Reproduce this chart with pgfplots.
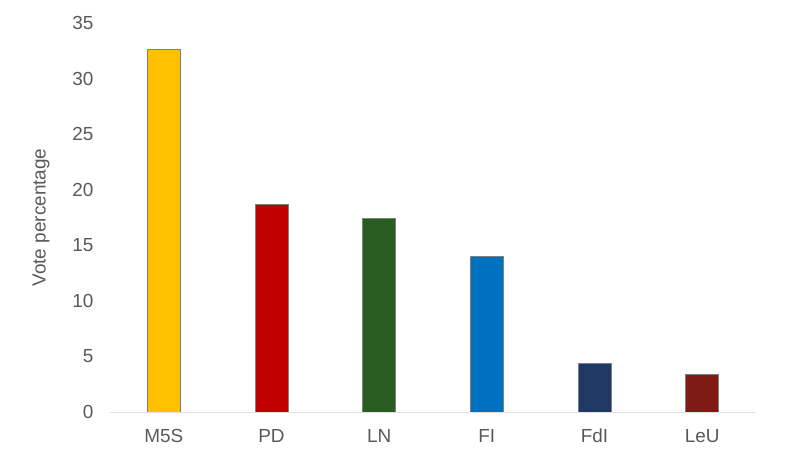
\documentclass[border=0pt]{standalone}
\usepackage{fontspec}
\setmainfont{Liberation Sans}
\usepackage{pgfplots}
\pgfplotsset{compat=1.18}

\definecolor{txt}{HTML}{595959}
\definecolor{cM}{HTML}{FFC000}
\definecolor{cPD}{HTML}{C00000}
\definecolor{cLN}{HTML}{285C21}
\definecolor{cFI}{HTML}{0070C0}
\definecolor{cFdI}{HTML}{1F3864}
\definecolor{cLeU}{HTML}{7F1A14}

\begin{document}
\begin{tikzpicture}
\begin{axis}[
    at={(110bp,38bp)}, anchor=south west,
    scale only axis,
    width=646bp, height=389bp,
    xmin=-0.5, xmax=5.5,
    ymin=0, ymax=35,
    ytick={0,5,...,35},
    xtick={0,...,5},
    xticklabels={M5S,PD,LN,FI,FdI,LeU},
    axis x line*=bottom,
    axis y line*=left,
    y axis line style={draw=none},
    x axis line style={draw=black!12, line width=1pt, -},
    major tick length=0pt,
    tick style={draw=none},
    ybar, bar width=33bp, bar shift=0pt,
    /pgf/number format/assume math mode=true,
    ticklabel style={font=\fontsize{19}{22}\selectfont, text=txt},
    yticklabel style={xshift=-13bp},
    xticklabel style={anchor=base, yshift=-31bp},
    ylabel={Vote percentage},
    ylabel style={font=\fontsize{19}{22}\selectfont, text=txt, yshift=16bp},
]
\addplot[fill=cM, draw=gray] coordinates {(0,32.68)};
\addplot[fill=cPD, draw=gray] coordinates {(1,18.72)};
\addplot[fill=cLN, draw=gray] coordinates {(2,17.4)};
\addplot[fill=cFI, draw=gray] coordinates {(3,14.0)};
\addplot[fill=cFdI, draw=gray] coordinates {(4,4.35)};
\addplot[fill=cLeU, draw=gray] coordinates {(5,3.4)};
\end{axis}
\pgfresetboundingbox
\useasboundingbox (0,0) rectangle (800bp,450bp);
\end{tikzpicture}
\end{document}
